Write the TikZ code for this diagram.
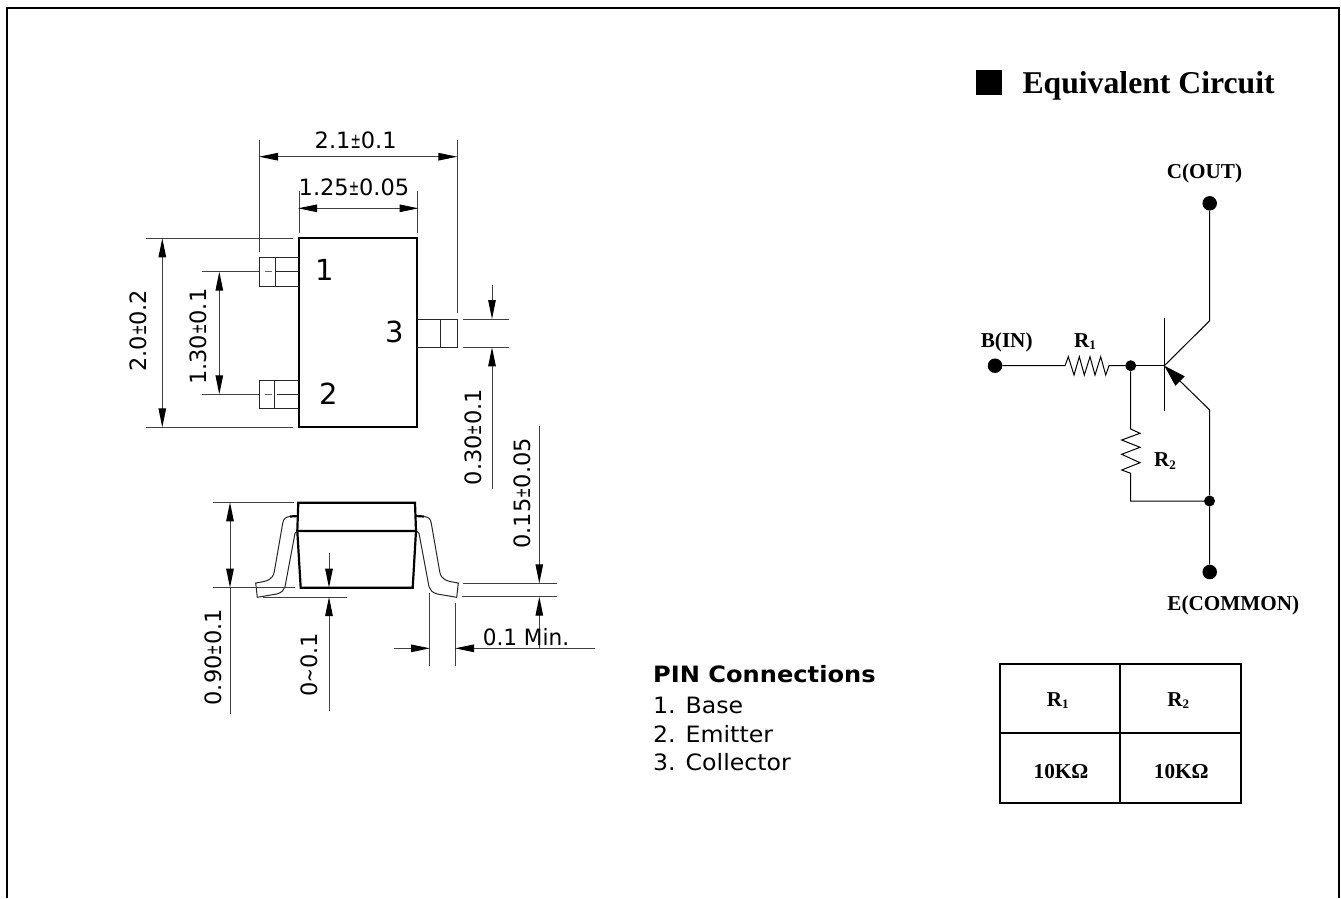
\documentclass[tikz,border=0pt]{standalone}
\usepackage{fontspec}
\usepackage{graphicx}
\setmainfont{DejaVu Sans}
\newfontfamily\serifbf[BoldFont={Liberation Serif Bold}]{Liberation Serif}
\usetikzlibrary{arrows.meta}
\newcommand{\pmsm}{\scalebox{0.55}[0.95]{±}}
\newcommand{\lblfont}{\serifbf\bfseries\fontsize{21.2}{24}\selectfont}
\newcommand{\subfont}[1]{\raisebox{-2.5pt}{\fontsize{13}{14}\selectfont #1}}
\tikzset{
  x=1pt,y=-1pt,
  tiplong/.tip={Triangle[length=19pt,width=7.5pt,color=black,fill=black]},
  dimline/.style={line width=1pt,draw=black!75},
  dimarrow/.style={dimline,{tiplong}-{tiplong}},
  onearrow/.style={dimline,-{tiplong}},
  thickline/.style={line width=2.2pt,draw=black,line join=miter},
  leadline/.style={line width=1pt,draw=black!85},
  dimtext/.style={inner sep=0pt,font=\fontsize{22.5}{26}\selectfont},
  pintext/.style={inner sep=0pt,font=\fontsize{29}{32}\selectfont},
  listtext/.style={inner sep=0pt,anchor=base west,font=\fontsize{22.5}{26}\selectfont},
  lbl/.style={inner sep=0pt,font=\lblfont},
  wire/.style={line width=1pt,draw=black},
  bigdot/.style={circle,fill=black,inner sep=0pt,minimum size=14.5pt},
  smalldot/.style={circle,fill=black,inner sep=0pt,minimum size=11pt},
}
\begin{document}
\begin{tikzpicture}
\useasboundingbox (0,0) rectangle (1341,898);
\fill[white] (0,0) rectangle (1341,898);
% frame
\draw[line width=2pt] (6.5,898) -- (6.5,8) -- (1339,8) -- (1339,898);

% --- top view ---
\draw[thickline] (299.3,238.3) rectangle (417.3,427.3);
% leads
\draw[leadline] (299,257.3) -- (259.3,257.3) -- (259.3,286) -- (299,286);
\draw[leadline] (275.7,257.3) -- (275.7,286);
\draw[leadline] (275.7,271.7) -- (299,271.7);
\draw[leadline,draw=black!60] (265,271.7) -- (271.7,271.7);
\draw[leadline] (299,380) -- (259,380) -- (259,408.3) -- (299,408.3);
\draw[leadline] (274.3,380) -- (274.3,408.3);
\draw[leadline] (276.7,394.3) -- (299,394.3);
\draw[leadline,draw=black!60] (265,394.3) -- (271.7,394.3);
\draw[leadline] (417.3,319) -- (457.3,319) -- (457.3,347.3) -- (417.3,347.3);
\draw[leadline] (440,319) -- (440,347.3);
\node[pintext] (pinA) at (325,270) {1};
\node[pintext] (pinB) at (328.3,393.3) {2};
\node[pintext] (pinC) at (394.3,332.3) {3};
% dims top
\draw[dimline] (259,140) -- (259,251.7);
\draw[dimline] (457.3,140) -- (457.3,312.7);
\draw[dimarrow] (259,156.7) -- (457.3,156.7);
\node[dimtext] (dimA) at (355.7,140.7) {2.1\pmsm0.1};
\draw[dimline] (299.3,191) -- (299.3,233);
\draw[dimline] (417.3,191) -- (417.3,233);
\draw[dimarrow] (298,208.3) -- (418.5,208.3);
\node[dimtext] (dimB) at (354,187.7) {1.25\pmsm0.05};
\draw[dimline] (145.7,238.3) -- (293,238.3);
\draw[dimline] (145.7,427.3) -- (293,427.3);
\draw[dimarrow] (162.3,238.3) -- (162.3,427.3);
\node[dimtext,rotate=90] (dimC) at (138,330.7) {2.0\pmsm0.2};
\draw[dimline] (202.3,271.7) -- (259,271.7);
\draw[dimline] (202.3,394.3) -- (259,394.3);
\draw[dimarrow] (219.3,271.7) -- (219.3,394.3);
\node[dimtext,rotate=90] (dimD) at (198,336.7) {1.30\pmsm0.1};
\draw[dimline] (463.3,319) -- (509,319);
\draw[dimline] (463.3,347.3) -- (509,347.3);
\draw[onearrow] (492,285) -- (492,319);
\draw[onearrow] (492,489.3) -- (492,347.3);
\node[dimtext,rotate=90] (dimE) at (473,437) {0.30\pmsm0.1};

% --- side view ---
\draw[thickline] (298.3,502.7) -- (415,502.7) -- (416,531) -- (297.3,531) -- cycle;
\draw[thickline] (297.3,531) -- (300.7,587.7) -- (412.7,587.7) -- (416,531);
\draw[thickline] (298.3,516) -- (290,516.5);
\draw[leadline] (290,516.5) .. controls (285,517) and (283.5,519) .. (282.7,523.3)
  -- (274.3,571.7) .. controls (272.5,580) and (268,581) .. (255.7,583)
  -- (257.3,597.3) -- (276.7,594) .. controls (282,592.5) and (284,590) .. (285,586.7)
  -- (295,533.3) -- (297.3,531);
\draw[thickline] (415.7,516) -- (424,516.5);
\draw[leadline] (424,516.5) .. controls (429,517) and (430.5,519) .. (431.3,523.3)
  -- (439.7,571.7) .. controls (441.5,580) and (446,581) .. (458.3,583)
  -- (456.7,597.3) -- (437.3,594) .. controls (432,592.5) and (430,590) .. (429,586.7)
  -- (419,533.3) -- (416.7,531);
% dims side
\draw[dimline] (212.7,502.3) -- (294,502.3);
\draw[dimline] (212.7,587.7) -- (295,587.7);
\draw[dimarrow] (230,502.3) -- (230,587.7);
\draw[dimline] (230,587.7) -- (230,714);
\node[dimtext,rotate=90] (dimF) at (213,657.3) {0.90\pmsm0.1};
\draw[dimline] (263.3,597) -- (346.7,597);
\draw[onearrow] (329,553.3) -- (329,587.7);
\draw[onearrow] (329,710.7) -- (329,597);
\node[dimtext,rotate=90] (dimG) at (309,665) {0\scalebox{0.72}[1]{\textasciitilde}0.1};
\draw[dimline] (463.3,583.3) -- (556.7,583.3);
\draw[dimline] (461.7,596.7) -- (556.7,596.7);
\draw[onearrow] (539.3,426) -- (539.3,583.3);
\draw[onearrow] (539.3,648.3) -- (539.3,596.7);
\node[dimtext,rotate=90] (dimH) at (522,493.3) {0.15\pmsm0.05};
\draw[dimline] (429,593.3) -- (429,665.7);
\draw[dimline] (455.7,602.7) -- (455.7,665.7);
\draw[onearrow] (394.3,648.3) -- (430,648.3);
\draw[onearrow] (595,648.3) -- (455,648.3);
\node[dimtext] (dimI) at (526,637) {\scalebox{0.96}[1]{0.1 Min.}};

% --- pin list ---
\node[listtext] (pinT) at (653,682.7) {\scalebox{1.072}[1]{\bfseries PIN Connections}};
\node[listtext] (pinX) at (653,713.3) {\scalebox{1.05}[1]{1. Base}};
\node[listtext] (pinY) at (653,742.7) {\scalebox{1.05}[1]{2. Emitter}};
\node[listtext] (pinZ) at (653,770.7) {\scalebox{1.05}[1]{3. Collector}};

% --- equivalent circuit ---
\node[fill=black,inner sep=0pt,minimum width=26pt,minimum height=25.3pt] (sq) at (989,82.7) {};
\node[inner sep=0pt,font=\serifbf\bfseries\fontsize{31.7}{36}\selectfont] (title) at (1148.6,86) {Equivalent Circuit};

\node[bigdot] (C) at (1209.7,203.3) {};
\node[bigdot] (B) at (995,365.7) {};
\node[bigdot] (E) at (1209.7,572) {};
\node[smalldot] (J1) at (1130.7,365.7) {};
\node[smalldot] (J2) at (1209.5,501) {};
\coordinate (bp) at (1164.3,365.7);
\coordinate (cb) at (1209.7,320.7);
\coordinate (eb) at (1209.7,410);
\coordinate (bt) at (1164.3,318.3);
\coordinate (bb) at (1164.3,411);
\coordinate (cr) at (1130.7,501);
\draw[wire] (C) -- (cb) -- (bp);
\draw[wire] (bt) -- (bb);
\draw[wire] (J1) -- (bp);
\draw[wire,-{Triangle[length=22pt,width=13pt]}] (eb) -- (bp);
\draw[wire] (eb) -- (J2) -- (E);
\draw[wire] (B) -- (1065,365.7) -- (1068.3,356.7) -- (1074,375) -- (1079.3,356.7) -- (1084.3,375)
  -- (1090,356.7) -- (1095,375) -- (1100.7,356.7) -- (1105.7,375) -- (1109,365.7) -- (J1);
\draw[wire] (J1) -- (1130.7,429) -- (1140,433.3) -- (1121.7,440) -- (1140,447.3) -- (1121.7,454.3)
  -- (1140,462.7) -- (1121.7,470) -- (1130.7,473.3) -- (cr) -- (J2);
\node[lbl] (lC) at (1204.5,173.5) {C(OUT)};
\node[lbl] (lB) at (1006.7,342.5) {B(IN)};
\node[lbl] (lE) at (1233.3,605) {E(COMMON)};
\node[lbl] (lR1) at (1085,341.5) {R\subfont{1}};
\node[lbl] (lR2) at (1165,461) {R\subfont{2}};

% --- table ---
\draw[thickline] (1000,664) rectangle (1240.7,802.7);
\draw[thickline] (1120.3,664) -- (1120.3,802.7);
\draw[thickline] (1000,733) -- (1240.7,733);
\node[lbl] (tA) at (1057.7,700.3) {R\subfont{1}};
\node[lbl] (tB) at (1178.3,700.3) {R\subfont{2}};
\node[lbl] (tC) at (1061,771.7) {10KΩ};
\node[lbl] (tD) at (1181.3,771.7) {10KΩ};
\end{tikzpicture}
\end{document}
